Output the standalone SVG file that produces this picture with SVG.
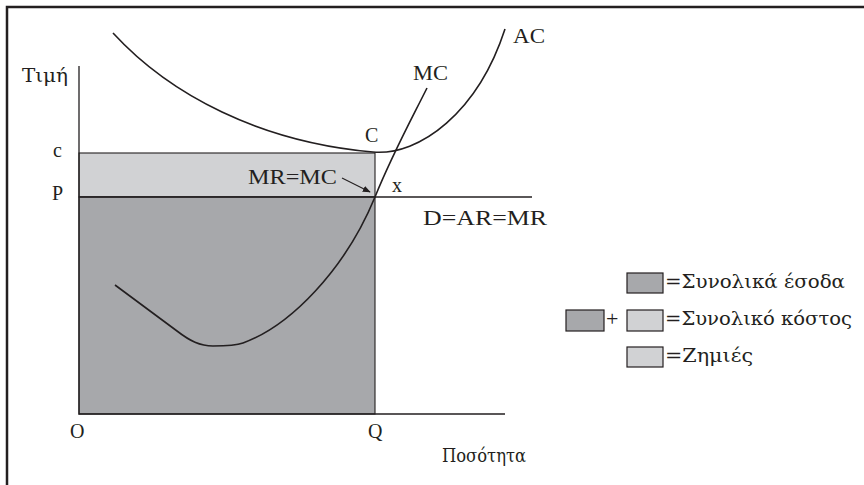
<svg xmlns="http://www.w3.org/2000/svg" width="864" height="485" viewBox="0 0 864 485">
<style>
.ln{stroke:#231f20;fill:none;stroke-width:1.6}
.ax{stroke:#231f20;fill:none;stroke-width:1.3}
.dark{fill:#a7a8ab;stroke:#231f20;stroke-width:1.2}
.light{fill:#d1d2d4;stroke:#231f20;stroke-width:1.2}
.gr{font-family:"DejaVu Serif","Liberation Serif",serif}
</style>
<defs>
<marker id="ah" viewBox="0 0 10 10" refX="9" refY="5" markerWidth="8" markerHeight="8" orient="auto" markerUnits="userSpaceOnUse"><path d="M0,1 L10,5 L0,9 z" fill="#231f20"/></marker>
</defs>
<rect width="864" height="485" fill="#fff"/>
<g id="frame"><path d="M7,485 V7 H864" fill="none" stroke="#231f20" stroke-width="2.5"/></g>
<g id="areas">
<rect x="79" y="153" width="296" height="44" fill="#d1d2d4" stroke="#231f20" stroke-width="1.1"/>
<rect x="79" y="197" width="296" height="217" fill="#a7a8ab" stroke="#231f20" stroke-width="1.1"/>
</g>
<g id="axes">
<path class="ax" d="M79,66 V414 H505"/>
<path class="ln" d="M79,197 H532"/>
</g>
<g id="connectors">
<path class="ln" d="M113,33 C170,95 260,142 373,152 C420,156 478,112 505,29"/>
<path class="ln" d="M115,285 L177,331 C190,341 200,346 213,346 C225,346 235,346 243,343 C290,326 345,270 375,197 C392,155 410,122 427,88"/>
<path d="M342,178 L370,192" stroke="#231f20" stroke-width="1.2" fill="none" marker-end="url(#ah)"/>
</g>
<g id="labels" font-family="'Liberation Serif', 'DejaVu Serif', serif" font-size="20" fill="#231f20">
<text class="gr" x="22" y="82" font-size="18" textLength="46" lengthAdjust="spacingAndGlyphs">Τιμή</text>
<text x="53" y="157">c</text>
<text x="52" y="200">P</text>
<text x="70" y="438">O</text>
<text x="368" y="438">Q</text>
<text class="gr" x="442" y="462" font-size="18" textLength="84" lengthAdjust="spacingAndGlyphs">Ποσότητα</text>
<text x="513" y="43" textLength="32" lengthAdjust="spacingAndGlyphs">AC</text>
<text x="413" y="80" textLength="35" lengthAdjust="spacingAndGlyphs">MC</text>
<text x="365" y="142">C</text>
<text x="248" y="184" textLength="89" lengthAdjust="spacingAndGlyphs">MR=MC</text>
<text x="392" y="192">x</text>
<text x="423" y="225" textLength="124" lengthAdjust="spacingAndGlyphs">D=AR=MR</text>
</g>
<g id="legend" font-family="'Liberation Serif', 'DejaVu Serif', serif" font-size="20" fill="#231f20">
<rect class="dark" x="627" y="273" width="36" height="20"/>
<text class="gr" x="665" y="288" font-size="18" textLength="180" lengthAdjust="spacingAndGlyphs">=Συνολικά έσοδα</text>
<rect class="dark" x="566" y="310" width="38" height="21"/>
<text x="606" y="326" font-size="22">+</text>
<rect class="light" x="627" y="310" width="36" height="21"/>
<text class="gr" x="665" y="325" font-size="18" textLength="187" lengthAdjust="spacingAndGlyphs">=Συνολικό κόστος</text>
<rect class="light" x="627" y="347" width="36" height="20"/>
<text class="gr" x="665" y="362" font-size="18" textLength="88" lengthAdjust="spacingAndGlyphs">=Ζημιές</text>
</g>
</svg>
